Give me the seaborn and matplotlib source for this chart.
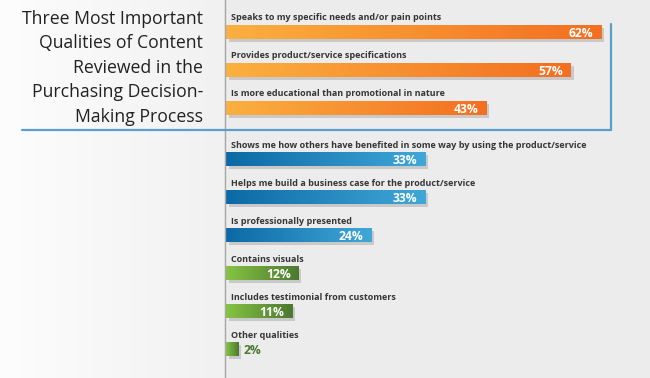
import numpy as np
import pandas as pd
import matplotlib
import matplotlib.pyplot as plt
import matplotlib.patheffects as pe
from matplotlib.colors import LinearSegmentedColormap
from matplotlib.lines import Line2D
import seaborn as sns

# data
top_labels = ["Speaks to my specific needs and/or pain points",
              "Provides product/service specifications",
              "Is more educational than promotional in nature"]
top_values = [62, 57, 43]

bottom_labels = ["Shows me how others have benefited in some way by using the product/service",
                 "Helps me build a business case for the product/service",
                 "Is professionally presented",
                 "Contains visuals",
                 "Includes testimonial from customers",
                 "Other qualities"]
bottom_values = [33, 33, 24, 12, 11, 2]
bottom_groups = ["blue", "blue", "blue", "green", "green", "green"]

title = "Three Most Important\nQualities of Content\nReviewed in the\nPurchasing Decision-\nMaking Process"

# gradient colours (left -> right)
grads = {
    "orange": ("#fbb03f", "#f36f21"),
    "blue": ("#0c69a5", "#40a8d8"),
    "green": ("#86c443", "#4b7830"),
}

sns.set_theme(style="white")
plt.rcParams["font.family"] = ["Open Sans", "DejaVu Sans"]

W, H = 650, 378
fig = plt.figure(figsize=(W / 100, H / 100), dpi=100)
fig.patch.set_facecolor("#ececec")

# light left panel
bg = fig.add_axes([0, 0, 224 / W, 1], zorder=0)
bg.imshow(np.linspace(0, 1, 256).reshape(1, -1), aspect="auto",
          cmap=LinearSegmentedColormap.from_list("bg", ["#fdfdfd", "#f1f1f1"]),
          extent=[0, 1, 0, 1])
bg.set_axis_off()

x0 = 226           # px where 0% sits
px_per = 6.05      # px per percent
step = 38          # px between rows
bar_h = 14         # px


def make_ax(top_px, bottom_px, first_center):
    ax = fig.add_axes([x0 / W, 1 - bottom_px / H, (W - x0) / W, (bottom_px - top_px) / H], zorder=2)
    ax.patch.set_alpha(0)
    return ax, (top_px - first_center) / step, (bottom_px - first_center) / step


def draw_group(ax, labels, values, groups, klims):
    df = pd.DataFrame({"label": labels, "value": values, "group": groups})
    sns.barplot(data=df, x="value", y="label", order=labels, ax=ax,
                width=bar_h / step, color="#f47b20", saturation=1, linewidth=0)
    ax.set_ylim(klims[1], klims[0])
    ax.set_xlim(0, (W - x0) / px_per)
    for k, (patch, lab, val, grp) in enumerate(zip(ax.patches, labels, values, groups)):
        c1, c2 = grads[grp]
        cmap = LinearSegmentedColormap.from_list(grp, [c1, c2])
        x, y = patch.get_x(), patch.get_y()
        w, h = patch.get_width(), patch.get_height()
        patch.set_path_effects([pe.SimplePatchShadow(offset=(2, -2), shadow_rgbFace="#888888", alpha=0.35), pe.Normal()])
        im = ax.imshow(np.linspace(0, 1, 256).reshape(1, -1), cmap=cmap, aspect="auto",
                       extent=[x, x + w, y + h, y], zorder=3)
        im.set_clip_path(patch)
        # category label above bar
        ax.text(0.8, k - h / 2 - 4.5 / step, lab, fontsize=6.5, fontweight="bold",
                color="#363636", va="baseline", ha="left")
        # value label
        if val >= 5:
            ax.text(val - 8 / px_per, k + 0.03, f"{val}%", fontsize=8.7, fontweight="bold",
                    color="white", va="center", ha="right", zorder=5)
        else:
            ax.text(val + 5 / px_per, k + 0.03, f"{val}%", fontsize=8.7, fontweight="bold",
                    color="#4b7830", va="center", ha="left", zorder=5)
    ax.set_axis_off()


ax1, a, b = make_ax(0, 130, 32)
draw_group(ax1, top_labels, top_values, ["orange"] * 3, (a, b))

ax2, a, b = make_ax(130, 378, 159)
draw_group(ax2, bottom_labels, bottom_values, bottom_groups, (a, b))

# frame lines
fig.add_artist(Line2D([225 / W, 225 / W], [0, 1], color="#a8a8a8", lw=1.0, zorder=4))
fig.add_artist(Line2D([22 / W, 611 / W], [1 - 130 / H, 1 - 130 / H], color="#5d9fcb", lw=1.6, zorder=4))
fig.add_artist(Line2D([611 / W, 611 / W], [1 - 24 / H, 1 - 130 / H], color="#5d9fcb", lw=1.6, zorder=4))

fig.text(203 / W, 1 - 10 / H, title, ha="right", va="top", fontsize=12.7, color="#222222",
         linespacing=1.46, zorder=5)

fig.savefig("out.png", dpi=100, facecolor=fig.get_facecolor())
